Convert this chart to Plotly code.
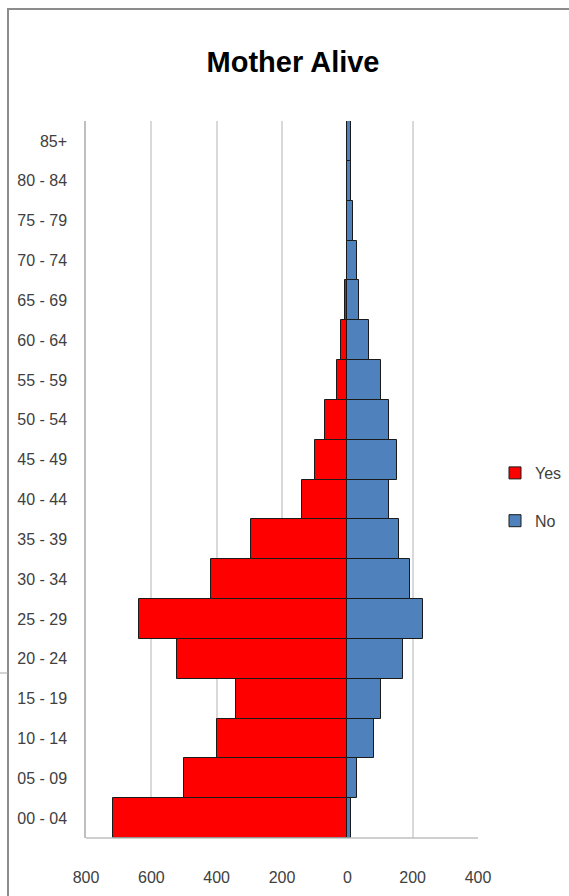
import plotly.graph_objects as go

age_groups = ["00 - 04", "05 - 09", "10 - 14", "15 - 19", "20 - 24", "25 - 29", "30 - 34",
              "35 - 39", "40 - 44", "45 - 49", "50 - 54", "55 - 59", "60 - 64", "65 - 69",
              "70 - 74", "75 - 79", "80 - 84", "85+"]
yes_values = [718, 501, 398, 341, 522, 638, 418, 295, 140, 99, 67, 33, 19, 6, 0, 0, 0, 0]
no_values = [10, 31, 81, 102, 170, 231, 193, 158, 127, 151, 127, 102, 67, 36, 29, 17, 10, 10]
tick_vals = [-800, -600, -400, -200, 0, 200, 400]
tick_text = ["800", "600", "400", "200", "0", "200", "400"]

W, H = 569, 896
ml, mr, mt, mb = 86, 91, 121, 58
pw, ph = W - ml - mr, H - mt - mb

fig = go.Figure()
fig.add_trace(go.Bar(
    y=age_groups, x=[-v for v in yes_values], orientation="h", name="Yes",
    marker=dict(color="#FF0000", line=dict(color="#1a1a1a", width=1)),
    legendgroup="yes",
))
fig.add_trace(go.Bar(
    y=age_groups, x=no_values, orientation="h", name="No",
    marker=dict(color="#4F81BD", line=dict(color="#1a1a1a", width=1)),
    legendgroup="no",
))

def px_x(p):
    return (p - ml) / pw

def px_y(p):
    return (H - mb - p) / ph

FONT = "Liberation Sans Narrow, Arial Narrow, Liberation Sans, Arial"

fig.update_layout(
    width=W, height=H,
    margin=dict(l=ml, r=mr, t=mt, b=mb, autoexpand=False),
    barmode="relative", bargap=0,
    plot_bgcolor="white", paper_bgcolor="white",
    font=dict(family=FONT, color="#404040", size=15),
    title=dict(text="<b>Mother Alive</b>", x=0.515, xanchor="center", y=1 - 62 / H, yanchor="middle",
               font=dict(family=FONT, size=29, color="#000000")),
    xaxis=dict(range=[-800, 400], tickvals=tick_vals, ticktext=tick_text,
               showgrid=True, gridcolor="#D9D9D9", gridwidth=1.5, zeroline=False,
               showline=False, ticks="", ticklabelstandoff=28, automargin=False,
               tickfont=dict(size=16, color="#404040")),
    yaxis=dict(showgrid=False, zeroline=False, showline=True, linecolor="#BFBFBF", linewidth=1.5,
               ticks="", ticklabelstandoff=14, automargin=False,
               tickfont=dict(size=16, color="#404040")),
    legend=dict(xref="container", yref="container", x=495 / W, y=1 - 456 / H,
                xanchor="left", yanchor="top",
                traceorder="grouped", tracegroupgap=24,
                font=dict(size=16, color="#404040"), itemwidth=30, bgcolor="rgba(0,0,0,0)"),
    showlegend=True,
)

# outer chart border
fig.add_shape(type="rect", xref="paper", yref="paper",
              x0=px_x(8), x1=px_x(W + 20), y0=px_y(H + 20), y1=px_y(9),
              line=dict(color="#8C8C8C", width=2), fillcolor="rgba(0,0,0,0)", layer="below")
# small stray tick at the left edge
fig.add_shape(type="line", xref="paper", yref="paper",
              x0=px_x(0), x1=px_x(8), y0=px_y(673), y1=px_y(673),
              line=dict(color="#A6A6A6", width=1))
# bottom axis line
fig.add_shape(type="line", xref="paper", yref="paper", x0=0, x1=1, y0=0, y1=0,
              line=dict(color="#BFBFBF", width=1.5))

fig.write_html("out.html", config={"displayModeBar": False},
               post_script="document.body.style.margin='0';document.body.style.overflow='hidden';")
